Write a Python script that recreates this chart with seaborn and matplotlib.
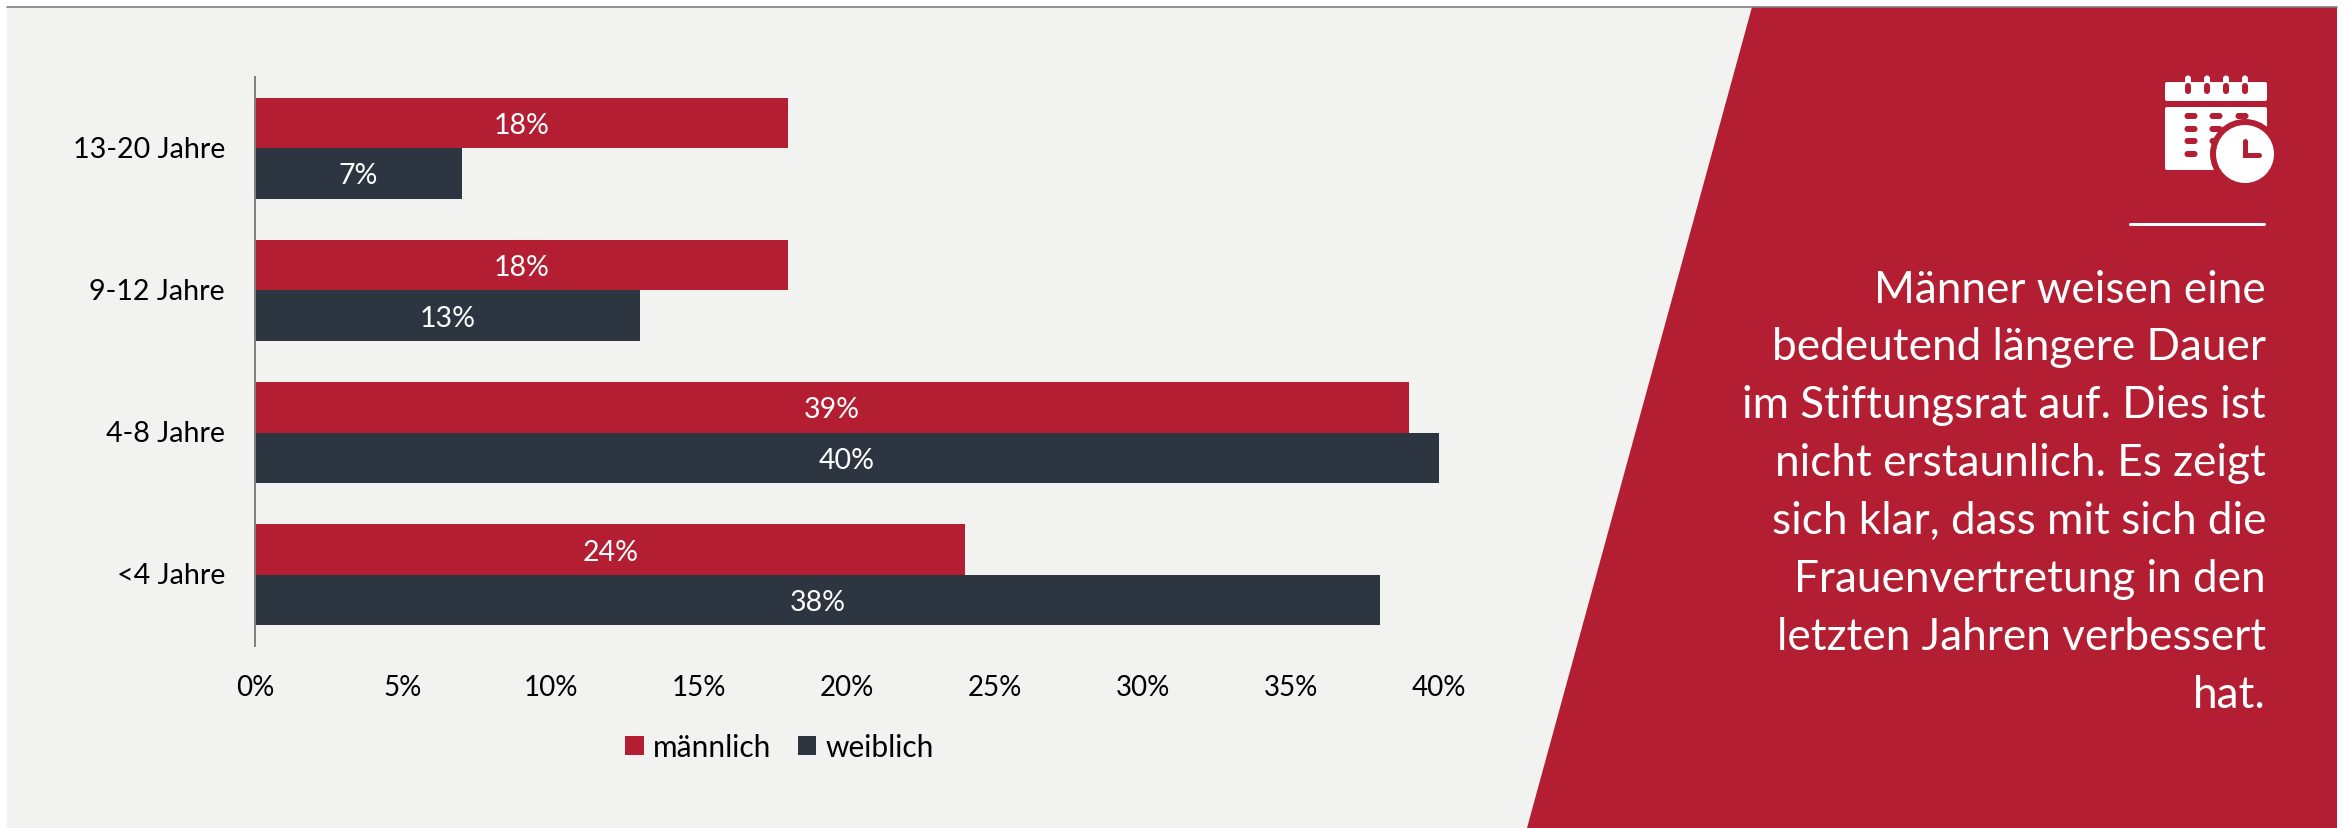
import matplotlib
matplotlib.use("Agg")
import matplotlib.pyplot as plt
from matplotlib.patches import Polygon, Rectangle, FancyBboxPatch, Circle
from matplotlib.lines import Line2D
from matplotlib.transforms import ScaledTranslation
import pandas as pd
import seaborn as sns

# Dauer im Stiftungsrat nach Geschlecht (Anteile in Prozent)
durations = ["13-20 Jahre", "9-12 Jahre", "4-8 Jahre", "<4 Jahre"]
male_pct = [18, 18, 39, 24]
female_pct = [7, 13, 40, 38]
genders = ["männlich", "weiblich"]
x_ticks = [0, 5, 10, 15, 20, 25, 30, 35, 40]
message_lines = [
    "Männer weisen eine",
    "bedeutend längere Dauer",
    "im Stiftungsrat auf. Dies ist",
    "nicht erstaunlich. Es zeigt",
    "sich klar, dass mit sich die",
    "Frauenvertretung in den",
    "letzten Jahren verbessert",
    "hat.",
]

RED = "#B31E33"
NAVY = "#2D3640"
PANEL = "#F2F2F0"
W, H = 2348, 829

sns.set_theme(style="white")
plt.rcParams["font.family"] = ["Lato", "DejaVu Sans"]

fig = plt.figure(figsize=(W / 100, H / 100), dpi=100, facecolor="white")

# Pixel-based backdrop: panel, slanted red block, calendar icon
bg = fig.add_axes([0, 0, 1, 1], zorder=0)
bg.set_xlim(0, W)
bg.set_ylim(H, 0)
bg.axis("off")
bg.add_patch(Rectangle((7, 8), 1760, H - 8, fc=PANEL, ec="none"))
bg.add_patch(Polygon([(1752, 8), (2337, 8), (2337, H), (1527, H)], fc=RED, ec="none"))
bg.add_line(Line2D([7, 2337], [7.5, 7.5], color="#7F7F7F", lw=1.2))

bg.add_patch(FancyBboxPatch((2167, 85), 98, 15, boxstyle="round,pad=2,rounding_size=2", fc="white", ec="none"))
bg.add_patch(FancyBboxPatch((2167, 110), 98, 59, boxstyle="round,pad=2,rounding_size=2", fc="white", ec="none"))
for ring_x in (2188, 2207, 2226, 2245):
    bg.add_patch(FancyBboxPatch((ring_x - 3, 79), 6, 13, boxstyle="round,pad=0,rounding_size=3", fc="white", ec="none"))
    bg.add_patch(FancyBboxPatch((ring_x - 3, 84), 6, 11, boxstyle="round,pad=0,rounding_size=3", fc=RED, ec="none"))
    bg.add_patch(Circle((ring_x, 79.5), 3, fc="white", ec="none"))
for pill_x, pill_rows in ((2191, (117, 130, 142, 155)), (2216, (117, 130, 142)), (2242, (117,))):
    for pill_y in pill_rows:
        bg.add_patch(FancyBboxPatch((pill_x - 6.5, pill_y - 3), 13, 6, boxstyle="round,pad=0,rounding_size=3", fc=RED, ec="none"))
bg.add_patch(Circle((2245, 155), 35, fc=RED, ec="none"))
bg.add_patch(Circle((2245, 155), 29, fc="white", ec="none"))
bg.add_line(Line2D([2245, 2245, 2259], [142, 156, 156], color=RED, lw=3.6, solid_capstyle="round", solid_joinstyle="miter"))
bg.add_line(Line2D([2130, 2264], [225, 225], color="white", lw=2.2))

# Closing message, right aligned inside the red block
for row, line in enumerate(message_lines):
    bg.text(2266, 290 + row * 57.9, line, color="white", fontsize=31.8, ha="right", va="center")

# Horizontal grouped bars
data = pd.DataFrame({
    "Dauer": durations * 2,
    "Anteil": male_pct + female_pct,
    "Geschlecht": [genders[0]] * 4 + [genders[1]] * 4,
})
ax = fig.add_axes([255 / W, 1 - 647 / H, (1439 - 255) / W, (647 - 78) / H], zorder=1)
ax.patch.set_alpha(0)
sns.barplot(
    data=data, x="Anteil", y="Dauer", hue="Geschlecht",
    order=durations, hue_order=genders, palette=[RED, NAVY],
    orient="h", width=0.71, saturation=1, errorbar=None, ax=ax, legend=False,
    linewidth=0,
)
for bars in ax.containers:
    for label in ax.bar_label(bars, fmt="%g%%", label_type="center", color="white", fontsize=20.5):
        label.xyann = (0, -1.5)

ax.set_xlim(0, 40)
ax.set_ylim(3.5, -0.5)
ax.set_xticks(x_ticks)
ax.set_xticklabels([f"{t}%" for t in x_ticks])
ax.set_xlabel("")
ax.set_ylabel("")
ax.tick_params(axis="x", length=0, pad=20, labelsize=20, colors="black")
ax.tick_params(axis="y", length=0, pad=21.6, labelsize=20.6, colors="black")
nudge_up = ScaledTranslation(0, 1.5 / 72, fig.dpi_scale_trans)
for label in ax.get_yticklabels():
    label.set_transform(label.get_transform() + nudge_up)
for side in ("top", "right", "bottom"):
    ax.spines[side].set_visible(False)
ax.spines["left"].set_color("#7F7F7F")
ax.spines["left"].set_linewidth(1.4)

handles = [Rectangle((0, 0), 1, 1, fc=c, ec="none") for c in (RED, NAVY)]
ax.legend(
    handles, genders, loc="center", bbox_to_anchor=(779.5 / W, 1 - 748 / H),
    bbox_transform=fig.transFigure, ncol=2, frameon=False, fontsize=21.5,
    handlelength=0.62, handleheight=0.62, handletextpad=0.3, columnspacing=0.9,
    labelcolor="black",
)

fig.savefig("out.png", dpi=100, facecolor="white")
